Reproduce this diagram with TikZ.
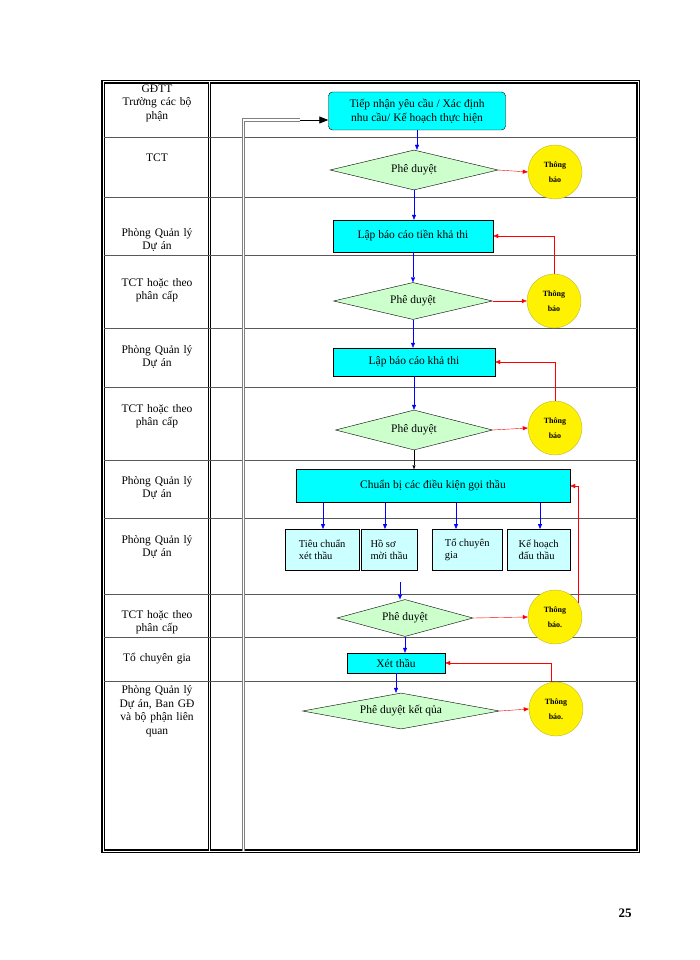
\documentclass[tikz,border=0pt]{standalone}
\usepackage{fontspec}
\setmainfont{Liberation Serif}
\usetikzlibrary{shapes.geometric,arrows.meta}
\definecolor{cy}{RGB}{0,255,255}
\definecolor{lcy}{RGB}{204,255,255}
\definecolor{lgr}{RGB}{204,255,204}
\begin{document}
\begin{tikzpicture}[x=1pt,y=-1pt,
  lane/.style={font=\fontsize{11.5}{13.5}\selectfont,align=center,text width=100pt},
  boxa/.style={draw=black,fill=cy,font=\fontsize{11.5}{14}\selectfont,align=center,inner sep=1pt},
  boxb/.style={draw=black,fill=lcy,font=\fontsize{10.5}{12.5}\selectfont,align=left,inner sep=2pt,anchor=north west},
  dia/.style={draw=black,fill=lgr,diamond,aspect=4,inner sep=0pt,font=\fontsize{11.5}{13}\selectfont},
  circ/.style={draw=yellow!70!black,fill=yellow,circle,minimum size=54pt,inner sep=0pt,font=\bfseries\fontsize{8}{15}\selectfont,align=center},
  bl/.style={draw=blue,-{Triangle[length=5pt,width=4pt]}},
  rd/.style={draw=red,-{Triangle[length=5pt,width=4pt]}}]
\useasboundingbox (0,0) rectangle (700,960);
% table
\draw[line width=1.2pt,double distance=1pt] (103,82) rectangle (638,851);
\draw[line width=1pt,double distance=1pt] (209.5,82) -- (209.5,851);
\foreach \y in {137,197,255,328,387,460,518,594,637,681}
  \draw[gray!70!black,line width=0.8pt] (104,\y) -- (637,\y);
% lane labels
\node[lane] at (157,103) {GĐTT\\Trường các bộ\\phận};
\node[lane] at (157,158) {TCT};
\node[lane] at (157,240) {Phòng Quản lý\\Dự án};
\node[lane] at (157,290) {TCT hoặc theo\\phân cấp};
\node[lane] at (157,357) {Phòng Quản lý\\Dự án};
\node[lane] at (157,416) {TCT hoặc theo\\phân cấp};
\node[lane] at (157,488) {Phòng Quản lý\\Dự án};
\node[lane] at (157,547) {Phòng Quản lý\\Dự án};
\node[lane] at (157,622) {TCT hoặc theo\\phân cấp};
\node[lane] at (157,659) {Tổ chuyên gia};
\node[lane] at (157,711) {Phòng Quản lý\\Dự án,  Ban GĐ\\và bộ phận liên\\quan};
% nodes
\node[boxa,rounded corners=4pt,minimum width=177pt,minimum height=38pt] (b1) at (417,111) {Tiếp nhận yêu cầu / Xác định\\nhu cầu/ Kế hoạch thực hiện};
\node[dia,minimum width=168pt,minimum height=40pt] (d1) at (414,170) {Phê duyệt};
\node[circ] (c1) at (555,172) {Thông\\báo};
\node[boxa,minimum width=160pt,minimum height=32pt] (b2) at (413,236) {Lập báo cáo tiền khả thi};
\node[dia,minimum width=159pt,minimum height=37pt] (d2) at (413,301) {Phê duyệt};
\node[circ] (c2) at (554,301) {Thông\\báo};
\node[boxa,minimum width=162pt,minimum height=28pt] (b3) at (414,362) {Lập báo cáo khả thi};
\node[dia,minimum width=157pt,minimum height=40pt] (d3) at (414,430) {Phê duyệt};
\node[circ] (c3) at (555,428) {Thông\\báo};
\node[boxa,minimum width=274pt,minimum height=33pt] (b4) at (433,486) {Chuẩn bị các điều kiện gọi thầu};
\node[boxb,minimum width=74pt,minimum height=41pt] (s1) at (285,529) {Tiêu chuẩn\\xét thầu};
\node[boxb,minimum width=56pt,minimum height=41pt] (s2) at (361,529) {Hồ sơ\\mời thầu};
\node[boxb,minimum width=70pt,minimum height=41pt] (s3) at (432,529) {Tổ chuyên\\gia};
\node[boxb,minimum width=63pt,minimum height=41pt] (s4) at (507,529) {Kế hoạch\\đấu thầu};
\node[dia,minimum width=136pt,minimum height=37pt] (d4) at (405,618) {Phê duyệt};
\node[circ] (c4) at (555,617) {Thông\\báo.};
\node[boxa,minimum width=98pt,minimum height=20pt] (b5) at (396,663) {Xét thầu};
\node[dia,minimum width=197pt,minimum height=36pt] (d5) at (401,711) {Phê duyệt kết qủa};
\node[circ] (c5) at (556,709) {Thông\\báo.};
\coordinate (g1) at (400,582);
\coordinate (lb) at (243.5,851);
% feedback gray line
\draw[gray,line width=1pt,double distance=1.2pt] (lb) -- (243.5,120) -- (300,120);
\draw[-{Triangle[length=9pt,width=7pt]},line width=0.8pt] (300,120) -- ([yshift=-9pt]b1.west);
% flow
\draw[bl] (b1.south) -- (b1.south|-d1.north);
\draw[bl] (d1.south) -- (b2.north-|d1.south);
\draw[bl] (b2.south) -- (d2.north);
\draw[bl] (d2.south) -- (b3.north-|d2.south);
\draw[bl] (b3.south) -- (d3.north);
\draw[-{Triangle[length=4pt,width=3pt]}] (d3.south) -- (b4.north-|d3.south);
\draw[bl] (b4.south-|323,0) -- (s1.north-|323,0);
\draw[bl] (b4.south-|385,0) -- (s2.north-|385,0);
\draw[bl] (b4.south-|456,0) -- (s3.north-|456,0);
\draw[bl] (b4.south-|540,0) -- (s4.north-|540,0);
\draw[bl] (g1) -- (d4.north-|g1);
\draw[bl] (d4.south) -- (b5.north-|d4.south);
\draw[bl] (b5.south) -- (d5.north-|b5.south);
% red
\draw[rd] (d1.east) -- (c1.west);
\draw[rd] (d2.east) -- (c2.west);
\draw[rd] (d3.east) -- (c3.west);
\draw[rd] (d4.east) -- (c4.west);
\draw[rd] (d5.east) -- (c5.west);
\draw[rd] (c2.north) -- (c2.north|-b2.east) -- (b2.east);
\draw[rd] (c3.north) -- (c3.north|-b3.east) -- (b3.east);
\draw[rd] (c4.30) -- (c4.30|-b4.east) -- (b4.east);
\draw[rd] (c5.100) -- (c5.100|-b5.east) -- (b5.east);
\node[font=\bfseries\fontsize{13}{15}\selectfont] (pg) at (625,913) {25};
\end{tikzpicture}
\end{document}
